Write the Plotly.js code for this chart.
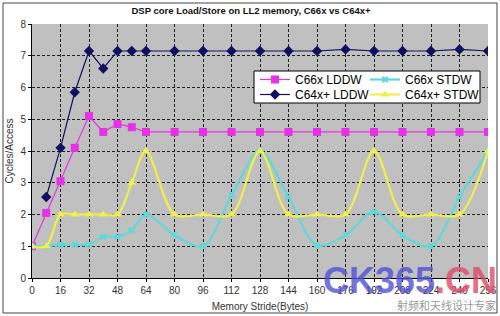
<!DOCTYPE html>
<html>
<head>
<meta charset="utf-8">
<script src="https://cdn.plot.ly/plotly-3.0.1.min.js"></script>
<style>html,body{margin:0;padding:0;background:#fff;}#chart{width:500px;height:316px;}</style>
</head>
<body>
<div id="chart"></div>
<script>
// Data
const strideFull = [0, 8, 16, 24, 32, 40, 48, 56, 64, 80, 96, 112, 128, 144, 160, 176, 192, 208, 224, 240, 256];
const strideNoZero = [8, 16, 24, 32, 40, 48, 56, 64, 80, 96, 112, 128, 144, 160, 176, 192, 208, 224, 240, 256];

const c66xLDDW  = [1, 2.05, 3.05, 4.1, 5.1, 4.6, 4.85, 4.75, 4.6, 4.6, 4.6, 4.6, 4.6, 4.6, 4.6, 4.6, 4.6, 4.6, 4.6, 4.6, 4.6];
const c66xSTDW  = [1, 1, 1.05, 1.05, 1.05, 1.3, 1.3, 1.5, 2, 1.35, 1, 2.6, 4, 2.55, 1.03, 1.35, 2.08, 1.35, 1, 2.55, 4];
const c64xLDDW  = [2.55, 4.1, 5.85, 7.15, 6.6, 7.15, 7.15, 7.15, 7.15, 7.15, 7.15, 7.15, 7.15, 7.15, 7.2, 7.15, 7.15, 7.15, 7.2, 7.15];
const c64xSTDW  = [1, 1, 2, 2, 2, 2, 2, 3, 4, 2, 2, 2, 4, 2, 2, 2, 4, 2, 2, 2, 4];

const xTicks = [0, 16, 32, 48, 64, 80, 96, 112, 128, 144, 160, 176, 192, 208, 224, 240, 256];
const yTicks = [0, 1, 2, 3, 4, 5, 6, 7, 8];

const traces = [
  {
    name: 'C66x LDDW', x: strideFull, y: c66xLDDW, mode: 'lines+markers',
    line: {color: '#e632e6', width: 1.2},
    marker: {symbol: 'square', size: 8, color: '#e632e6'},
    legend: 'legend'
  },
  {
    name: 'C64x+ LDDW', x: strideNoZero, y: c64xLDDW, mode: 'lines+markers',
    line: {color: '#101060', width: 1.2},
    marker: {symbol: 'diamond', size: 8, color: '#101060'},
    legend: 'legend2'
  },
  {
    name: 'C66x STDW', x: strideFull, y: c66xSTDW, mode: 'lines+markers',
    line: {color: '#5fd8d8', width: 2.2, shape: 'spline', smoothing: 0.9},
    marker: {symbol: 'x', size: 6, color: '#5fd8d8'},
    legend: 'legend3'
  },
  {
    name: 'C64x+ STDW', x: strideFull, y: c64xSTDW, mode: 'lines+markers',
    line: {color: '#f0f04a', width: 2.2, shape: 'spline', smoothing: 0.9},
    marker: {symbol: 'triangle-up', size: 8, color: '#f0f04a'},
    legend: 'legend4'
  }
];

const W = 456, H = 254, L = 32, T = 24;
function px(x) { return (x - L) / W; }
function py(y) { return (T + H - y) / H; }

function leg(x, y) {
  return {
    bgcolor: 'rgba(0,0,0,0)', borderwidth: 0,
    font: {family: 'Liberation Sans, Arial, sans-serif', size: 12, color: '#000'},
    xanchor: 'left', yanchor: 'top', itemwidth: 30,
    x: px(x), y: py(y)
  };
}

const layout = {
  width: 500, height: 316,
  margin: {l: L, r: 500 - L - W, t: T, b: 316 - T - H, pad: 0},
  paper_bgcolor: '#ffffff',
  plot_bgcolor: '#c0c0c0',
  font: {family: 'Liberation Sans, Arial, sans-serif', color: '#333'},
  title: {
    text: '<b>DSP core Load/Store on LL2 memory, C66x vs C64x+</b>',
    font: {size: 9.5, color: '#111'}, x: 0.502, xanchor: 'center', y: 0.965, yanchor: 'middle'
  },
  xaxis: {
    range: [0, 256], tickvals: xTicks, ticktext: xTicks.map(String),
    showgrid: true, gridcolor: '#222', griddash: '3px,2px', gridwidth: 1,
    zeroline: false, showline: true, linecolor: '#000', linewidth: 1,
    ticks: 'outside', ticklen: 3, tickcolor: '#000',
    tickfont: {size: 10, color: '#333'},
    title: {text: 'Memory Stride(Bytes)', font: {size: 10, color: '#333'}, standoff: 7}
  },
  yaxis: {
    range: [0, 8], tickvals: yTicks,
    showgrid: true, gridcolor: '#222', griddash: '3px,2px', gridwidth: 1,
    zeroline: false, showline: true, linecolor: '#000', linewidth: 1,
    ticks: 'outside', ticklen: 3, tickcolor: '#000',
    tickfont: {size: 10, color: '#333'},
    title: {text: 'Cycles/Access', font: {size: 10, color: '#333'}, standoff: 4}
  },
  legend: leg(255, 65),
  legend2: leg(255, 80),
  legend3: leg(365, 65),
  legend4: leg(365, 80),
  shapes: [
    {type: 'rect', xref: 'paper', yref: 'paper', x0: px(254), x1: px(480), y0: py(103), y1: py(71),
     fillcolor: '#ffffff', line: {color: '#000', width: 1}, layer: 'above'},
    {type: 'rect', xref: 'paper', yref: 'paper', x0: px(3), x1: px(497), y0: py(313), y1: py(3),
     fillcolor: 'rgba(0,0,0,0)', line: {color: '#444', width: 1}, layer: 'above'}
  ],
  annotations: [
    {text: '<b><span style="color:#5252d6">CK365</span><span style="color:#e04a6a">.CN</span></b>',
     xref: 'paper', yref: 'paper', x: px(410), y: py(280), xanchor: 'center', yanchor: 'middle',
     showarrow: false, opacity: 0.8, font: {family: 'Liberation Sans, Arial, sans-serif', size: 36}},
    {text: '射频和天线设计专家', xref: 'paper', yref: 'paper', x: px(446), y: py(305),
     xanchor: 'center', yanchor: 'middle', showarrow: false,
     font: {family: 'Noto Sans CJK SC', size: 11, color: '#999'}}
  ],
  showlegend: true
};

Plotly.newPlot('chart', traces, layout, {displayModeBar: false, staticPlot: true});
</script>
</body>
</html>
